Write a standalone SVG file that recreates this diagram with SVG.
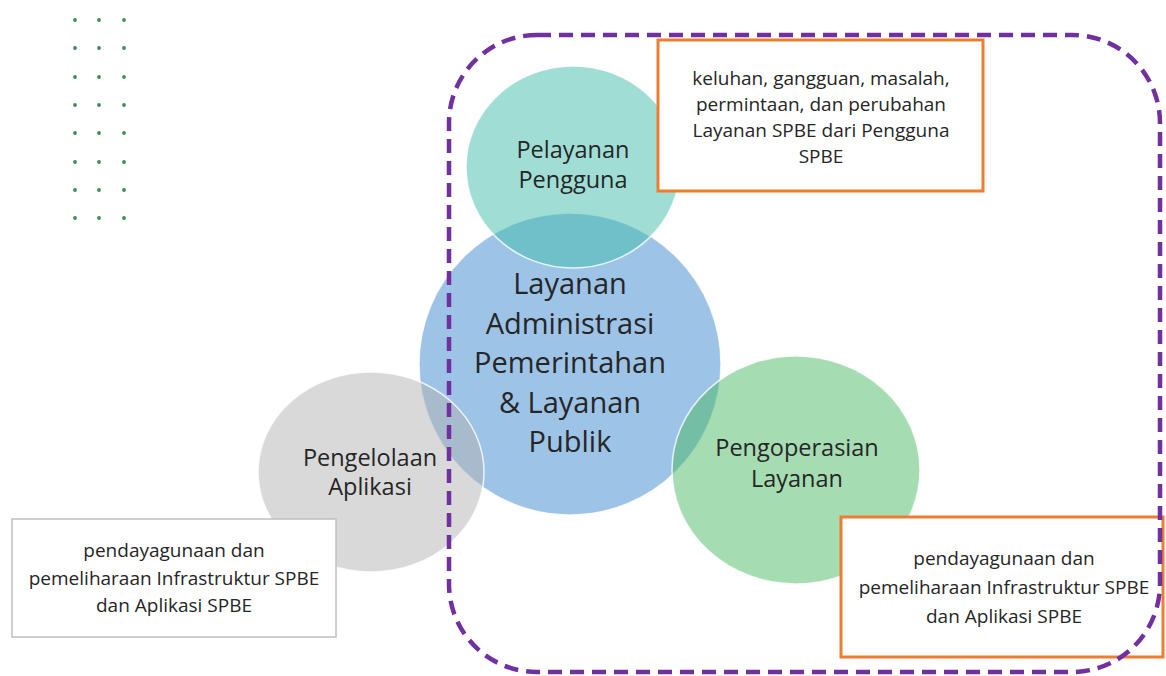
<svg xmlns="http://www.w3.org/2000/svg" width="1166" height="676" viewBox="0 0 1166 676">
<style>
.lbl{font-family:"Open Sans","Liberation Sans",sans-serif;fill:#262626;text-anchor:middle}
.c{font-size:23.5px}
.big{font-size:29px}
.box{font-size:19px}
.circ{stroke:#ffffff;stroke-width:1.5;stroke-opacity:0.8}
.dot{fill:#3a8f57}
</style>
<rect width="1166" height="676" fill="#ffffff"/>
<g id="dots">
<g class="dot">
<circle cx="75" cy="20" r="1.9"/><circle cx="99" cy="20" r="1.9"/><circle cx="124" cy="20" r="1.9"/>
<circle cx="75" cy="48" r="1.9"/><circle cx="99" cy="48" r="1.9"/><circle cx="124" cy="48" r="1.9"/>
<circle cx="75" cy="77" r="1.9"/><circle cx="99" cy="77" r="1.9"/><circle cx="124" cy="77" r="1.9"/>
<circle cx="75" cy="105" r="1.9"/><circle cx="99" cy="105" r="1.9"/><circle cx="124" cy="105" r="1.9"/>
<circle cx="75" cy="133" r="1.9"/><circle cx="99" cy="133" r="1.9"/><circle cx="124" cy="133" r="1.9"/>
<circle cx="75" cy="162" r="1.9"/><circle cx="99" cy="162" r="1.9"/><circle cx="124" cy="162" r="1.9"/>
<circle cx="75" cy="190" r="1.9"/><circle cx="99" cy="190" r="1.9"/><circle cx="124" cy="190" r="1.9"/>
<circle cx="75" cy="218" r="1.9"/><circle cx="99" cy="218" r="1.9"/><circle cx="124" cy="218" r="1.9"/>
</g>
</g>
<g id="layanan-administrasi">
<circle class="circ" cx="570" cy="364" r="151" fill="rgb(59,135,205)" fill-opacity="0.5"/>
</g>
<g id="pelayanan-pengguna">
<ellipse class="circ" cx="573" cy="167" rx="107" ry="101" fill="rgb(65,189,171)" fill-opacity="0.5"/>
</g>
<g id="pengoperasian-layanan">
<ellipse class="circ" cx="796" cy="470" rx="124" ry="114" fill="rgb(75,185,101)" fill-opacity="0.5"/>
</g>
<g id="pengelolaan-aplikasi">
<ellipse class="circ" cx="371" cy="472" rx="113" ry="100" fill="rgb(179,179,179)" fill-opacity="0.5"/>
</g>
<g id="labels">
<text class="lbl big" x="570" y="294">Layanan</text>
<text class="lbl big" x="570" y="333.5">Administrasi</text>
<text class="lbl big" x="570" y="373">Pemerintahan</text>
<text class="lbl big" x="570" y="412.5">&amp; Layanan</text>
<text class="lbl big" x="570" y="452">Publik</text>
<text class="lbl c" x="573" y="158">Pelayanan</text>
<text class="lbl c" x="573" y="188">Pengguna</text>
<text class="lbl c" x="797" y="456">Pengoperasian</text>
<text class="lbl c" x="797" y="487">Layanan</text>
<text class="lbl c" x="370" y="466">Pengelolaan</text>
<text class="lbl c" x="370" y="495">Aplikasi</text>
</g>
<g id="box-keluhan">
<rect x="658" y="40" width="325" height="151" fill="#ffffff" stroke="#ed7d31" stroke-width="3"/>
<text class="lbl box" x="821" y="85">keluhan, gangguan, masalah,</text>
<text class="lbl box" x="821" y="111">permintaan, dan perubahan</text>
<text class="lbl box" x="821" y="137">Layanan SPBE dari Pengguna</text>
<text class="lbl box" x="821" y="163">SPBE</text>
</g>
<g id="box-aplikasi">
<rect x="12" y="519" width="324" height="118" fill="#ffffff" stroke="#bfbfbf" stroke-width="1.5"/>
<text class="lbl box" x="174" y="557">pendayagunaan dan</text>
<text class="lbl box" x="174" y="585">pemeliharaan Infrastruktur SPBE</text>
<text class="lbl box" x="174" y="612">dan Aplikasi SPBE</text>
</g>
<g id="box-operasional">
<rect x="841" y="517" width="322" height="140" fill="#ffffff" stroke="#ed7d31" stroke-width="3"/>
<text class="lbl box" x="1004" y="565">pendayagunaan dan</text>
<text class="lbl box" x="1004" y="594">pemeliharaan Infrastruktur SPBE</text>
<text class="lbl box" x="1004" y="623">dan Aplikasi SPBE</text>
</g>
<g id="connectors">
<rect x="449" y="35" width="711" height="637" rx="88" ry="88" fill="none" stroke="#7030a0" stroke-width="4.5" stroke-dasharray="14 8"/>
</g>
</svg>
